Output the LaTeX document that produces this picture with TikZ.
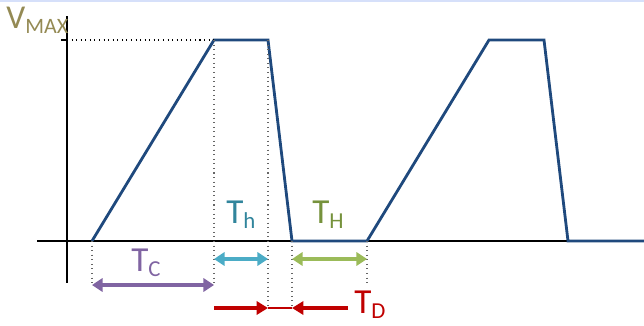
\documentclass[tikz,border=0pt]{standalone}
\usepackage{fontspec}
\setmainfont{Carlito}
\usetikzlibrary{arrows.meta, positioning}
\definecolor{waveblue}{RGB}{31,73,125}
\definecolor{vmaxolive}{RGB}{148,138,84}
\definecolor{tcpurple}{RGB}{128,100,162}
\definecolor{thcyan}{RGB}{75,172,198}
\definecolor{thtext}{RGB}{49,133,156}
\definecolor{thgreen}{RGB}{155,187,89}
\definecolor{thgtext}{RGB}{118,146,60}
\definecolor{tdred}{RGB}{192,0,0}
\definecolor{topband}{RGB}{214,224,250}
\newcommand{\tlabel}[2]{T\raisebox{-0.35ex}{\fontsize{13}{13}\selectfont #2}}

\begin{document}
\begin{tikzpicture}[
    x=0.02cm, y=-0.02cm,
    axis/.style={line width=1.6pt, black},
    wave/.style={line width=1.6pt, waveblue, line join=miter},
    guide/.style={dotted, line width=0.6pt, black!60},
    span/.style={line width=2pt, {Triangle[length=6pt, width=7.5pt]}-{Triangle[length=6pt, width=7.5pt]}},
    push/.style={line width=2pt, tdred, -{Triangle[length=6.5pt, width=7.5pt]}},
    label/.style={inner sep=0pt, anchor=base west, font=\fontsize{20}{20}\selectfont}
]
\useasboundingbox (0,0) rectangle (644,325);
\fill[topband] (0,0) rectangle (644,2);

% Axes
\coordinate (ytop) at (67,16);
\coordinate (ybot) at (67,283);
\coordinate (xleft) at (37,241);
\coordinate (xright) at (644,241);
\draw[axis] (ytop) -- (ybot);
\draw[axis] (xleft) -- (xright);

% Waveform corners
\coordinate (a0) at (92,241);
\coordinate (a1) at (214,40);
\coordinate (a2) at (268,40);
\coordinate (a3) at (292,241);
\coordinate (b0) at (367,241);
\coordinate (b1) at (489,40);
\coordinate (b2) at (544,40);
\coordinate (b3) at (568,241);
\coordinate (bend) at (644,241);
\draw[wave] (a0) -- (a1) -- (a2) -- (a3) -- (b0) -- (b1) -- (b2) -- (b3) -- (bend);

% VMAX level
\coordinate (tick) at (61,40);
\coordinate (yv) at (67,40);
\draw[axis, line width=1.1pt] (tick) -- (yv);
\draw[dotted, line width=0.6pt] (yv) -- (a1);
\node[label, text=vmaxolive, font=\fontsize{19}{19}\selectfont] (vmax) at (6,28) {V\raisebox{-0.35ex}{\fontsize{12.5}{12.5}\selectfont MAX}};

% Guide lines
\coordinate (g0) at (92,286);
\coordinate (g1) at (214,284);
\coordinate (g2) at (268,308);
\coordinate (g3) at (292,308);
\coordinate (g4) at (367,283);
\draw[guide] (a0) -- (g0);
\draw[guide] (a1) -- (g1);
\draw[guide] (a2) -- (g2);
\draw[guide] (a3) -- (g3);
\draw[guide] (b0) -- (g4);

% Spans
\coordinate (c0) at (92,285);
\coordinate (c1) at (214,285);
\draw[span, tcpurple] (c0) -- (c1);
\node[label, text=tcpurple] (tc) at (131,271) {\tlabel{T}{C}};

\coordinate (h0) at (214,259);
\coordinate (h1) at (268,259);
\draw[span, thcyan] (h0) -- (h1);
\node[label, text=thtext] (th) at (226,223) {\tlabel{T}{h}};

\coordinate (k0) at (292,259);
\coordinate (k1) at (367,259);
\draw[span, thgreen] (k0) -- (k1);
\node[label, text=thgtext] (tH) at (312,223) {\tlabel{T}{H}};

% Decay time
\coordinate (d0) at (214,308);
\coordinate (d1) at (268,308);
\coordinate (d2) at (292,308);
\coordinate (d3) at (348,308);
\draw[push] (d0) -- (d1);
\draw[push] (d3) -- (d2);
\draw[tdred, line width=1pt] (d1) -- (d2);
\node[label, text=tdred] (td) at (354,313) {\tlabel{T}{D}};

\end{tikzpicture}
\end{document}
